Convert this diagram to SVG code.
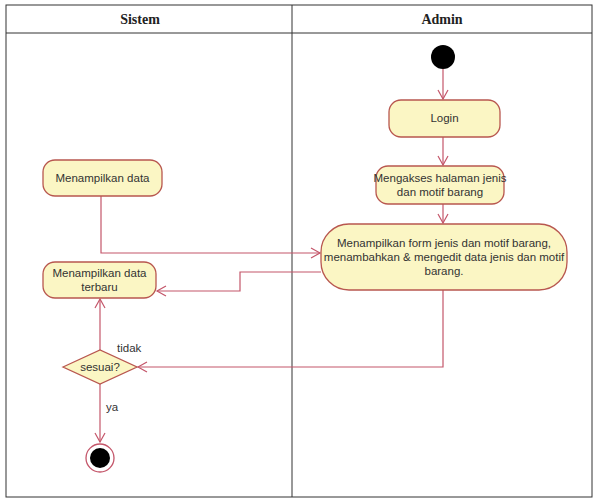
<svg xmlns="http://www.w3.org/2000/svg" width="594" height="500" viewBox="0 0 594 500">
<style>
.lane{fill:none;stroke:#333;stroke-width:1}
.hdr{font-family:"Liberation Serif",serif;font-weight:bold;font-size:14px;fill:#222;text-anchor:middle}
.box{fill:#FBF6C4;stroke:#B8574F;stroke-width:1.3}
.t{font-family:"Liberation Sans",Arial,sans-serif;font-size:11.5px;fill:#333;text-anchor:middle}
.lbl{font-family:"Liberation Sans",Arial,sans-serif;font-size:11.5px;fill:#333}
.c{fill:none;stroke:#C4566A;stroke-width:1.2}
</style>
<defs>
<marker id="arr" markerWidth="12" markerHeight="12" refX="10" refY="6" orient="auto" markerUnits="userSpaceOnUse">
<path d="M1,1 L10,6 L1,11" fill="none" stroke="#C4566A" stroke-width="1.2"/>
</marker>
</defs>
<rect x="0" y="0" width="594" height="500" fill="#fff"/>
<g id="lanes">
<rect class="lane" x="6" y="5" width="586" height="492"/>
<line class="lane" x1="6" y1="33" x2="592" y2="33"/>
<line class="lane" x1="292" y1="5" x2="292" y2="497"/>
<text class="hdr" x="140" y="24">Sistem</text>
<text class="hdr" x="442" y="24">Admin</text>
</g>
<g id="connectors">
<path class="c" d="M443,69 L443,99" marker-end="url(#arr)"/>
<path class="c" d="M443,137 L443,165" marker-end="url(#arr)"/>
<path class="c" d="M443,204 L443,223" marker-end="url(#arr)"/>
<path class="c" d="M101,196 L101,253 L320,253" marker-end="url(#arr)"/>
<path class="c" d="M321,272 L240,272 L240,291 L157,291" marker-end="url(#arr)"/>
<path class="c" d="M443,290 L443,367 L138,367" marker-end="url(#arr)"/>
<path class="c" d="M100,350 L100,299" marker-end="url(#arr)"/>
<path class="c" d="M100,384 L100,442" marker-end="url(#arr)"/>
<text class="lbl" x="117" y="352">tidak</text>
<text class="lbl" x="106" y="411">ya</text>
</g>
<g id="start">
<circle cx="443" cy="57" r="12" fill="#000"/>
</g>
<g id="login">
<rect class="box" x="389" y="100" width="111" height="37" rx="12"/>
<text class="t" x="444.5" y="122">Login</text>
</g>
<g id="mengakses">
<rect class="box" x="376" y="166" width="128" height="38" rx="12"/>
<text class="t" x="440" y="182">Mengakses halaman jenis</text>
<text class="t" x="440" y="196">dan motif barang</text>
</g>
<g id="form">
<rect class="box" x="321" y="224" width="246" height="66" rx="28"/>
<text class="t" x="444" y="247">Menampilkan form jenis dan motif barang,</text>
<text class="t" x="444" y="261">menambahkan &amp; mengedit data jenis dan motif</text>
<text class="t" x="444" y="275">barang.</text>
</g>
<g id="tampil">
<rect class="box" x="43" y="160" width="119" height="36" rx="12"/>
<text class="t" x="102.5" y="182">Menampilkan data</text>
</g>
<g id="terbaru">
<rect class="box" x="43" y="262" width="113" height="36" rx="12"/>
<text class="t" x="99.5" y="277">Menampilkan data</text>
<text class="t" x="99.5" y="291">terbaru</text>
</g>
<g id="sesuai">
<polygon class="box" points="63,367 100,350 137,367 100,384"/>
<text class="t" x="100" y="371">sesuai?</text>
</g>
<g id="end">
<circle cx="100" cy="458" r="14" fill="#fff" stroke="#C4566A" stroke-width="1.3"/>
<circle cx="100" cy="458" r="10" fill="#000"/>
</g>
</svg>
